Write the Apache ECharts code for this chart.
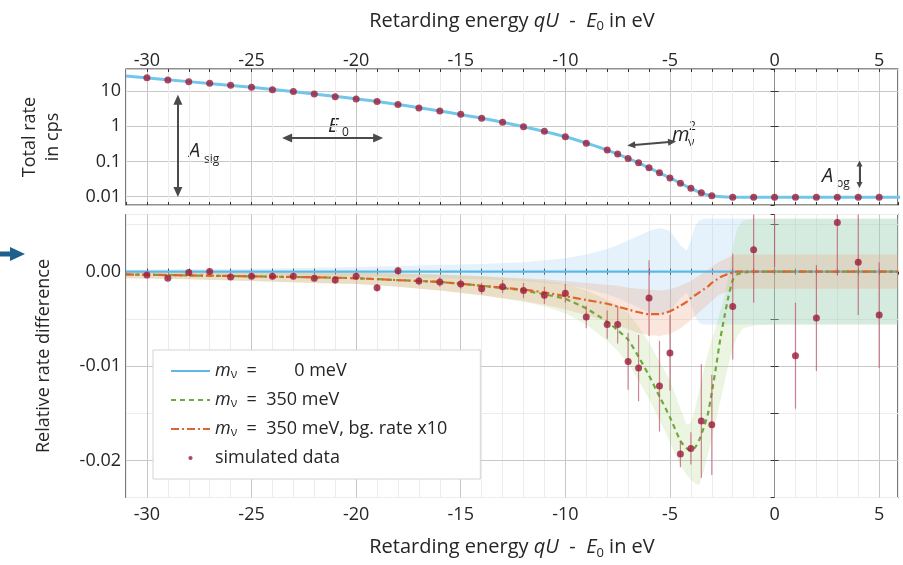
<!DOCTYPE html>
<html><head><meta charset="utf-8">
<script src="https://cdn.jsdelivr.net/npm/echarts@6/dist/echarts.min.js"></script>
<style>html,body{margin:0;padding:0;background:#fff}#c{width:903px;height:565px}</style>
</head><body><div id="c"></div><script>
// ---------- data ----------
const dataX = [-30,-29,-28,-27,-26,-25,-24,-23,-22,-21,-20,-19,-18,-17,-16,-15,-14,-13,-12,-11,-10,-9,-8,-7.5,-7,-6.5,-6,-5.5,-5,-4.5,-4,-3.5,-3,-2,-1,0,1,2,3,4,5];
const totalRate = [23.9,20.5,18.4,16.5,14.5,12.7,10.9,9.6,8.2,6.9,5.9,5.0,4.1,3.3,2.7,2.2,1.67,1.29,0.97,0.72,0.50,0.33,0.21,0.162,0.122,0.092,0.066,0.048,0.034,0.0239,0.0172,0.0129,0.0106,0.0097,0.0096,0.0096,0.0096,0.0096,0.0096,0.0096,0.0096];
const rateCurveX = [-31,-28,-25,-22,-19,-16,-13,-10,-8,-7,-6,-5,-4.5,-4,-3.5,-3,-2.5,-2,0,6];
const rateCurve = [26.7,18.4,12.7,8.2,5.0,2.7,1.29,0.50,0.21,0.122,0.066,0.034,0.024,0.0172,0.0128,0.0106,0.0099,0.0097,0.0096,0.0096];

const relDiff = [-0.00035,-0.0007,-0.0001,0.0,-0.00056,-0.0005,-0.0005,-0.0005,-0.0007,-0.0009,-0.0005,-0.0017,0.0001,-0.0010,-0.0011,-0.0013,-0.0018,-0.0016,-0.0020,-0.0025,-0.0023,-0.0048,-0.0056,-0.0056,-0.0095,-0.0102,-0.0028,-0.0121,-0.0086,-0.0193,-0.0187,-0.0158,-0.0162,-0.0037,0.0023,0.0061,-0.0089,-0.0049,0.0052,0.0010,-0.0046];
const relErr = [0.0002,0.0002,0.0002,0.0002,0.00025,0.00025,0.0003,0.0003,0.0003,0.00035,0.00035,0.0004,0.0004,0.00045,0.0005,0.0005,0.0006,0.0007,0.0008,0.0009,0.001,0.0012,0.0015,0.002,0.003,0.0035,0.004,0.0048,0.004,0.0014,0.0017,0.006,0.0053,0.0056,0.0056,0.0056,0.0056,0.0056,0.0056,0.0056,0.0056];

const curve0X = [-31, 5.9];
const curve0 = [0, 0];
const modelX = [-31,-28,-25,-22,-20,-18,-16,-14,-12,-11,-10,-9,-8,-7.5,-7,-6.5,-6,-5.5,-5,-4.5,-4.2,-4,-3.8,-3.6,-3.4,-3.2,-3,-2.8,-2.6,-2.4,-2.2,-2,-1.8,-1.5,-1,0,2,4,5.9];
const curve350 = [-0.0003,-0.0004,-0.0005,-0.0006,-0.0007,-0.0009,-0.0011,-0.0015,-0.0020,-0.0024,-0.0029,-0.0039,-0.0053,-0.0062,-0.0072,-0.0090,-0.0110,-0.0132,-0.0154,-0.0179,-0.0187,-0.0189,-0.0186,-0.0178,-0.0166,-0.0152,-0.0128,-0.0101,-0.0072,-0.0048,-0.0026,-0.0009,-0.0003,-0.0001,0,0,0,0,0];
const curve350bg = [-0.0003,-0.0004,-0.0005,-0.0006,-0.0007,-0.0009,-0.0011,-0.0015,-0.0019,-0.0022,-0.0026,-0.0030,-0.0034,-0.0037,-0.0040,-0.0043,-0.0045,-0.0045,-0.0042,-0.0036,-0.0032,-0.0028,-0.0025,-0.0022,-0.0019,-0.0016,-0.0012,-0.0009,-0.0006,-0.0004,-0.0002,-0.0001,0,0,0,0,0,0,0];
const band0Half = [0.0002,0.00025,0.0003,0.0004,0.0005,0.0006,0.0007,0.0008,0.0010,0.0012,0.0014,0.0018,0.0024,0.0028,0.0033,0.0038,0.0043,0.0046,0.0043,0.0028,0.0022,0.0033,0.0048,0.0054,0.0056,0.0056,0.0056,0.0056,0.0056,0.0056,0.0056,0.0056,0.0056,0.0056,0.0056,0.0056,0.0056,0.0056,0.0056];
const band350High = [0.0000,-0.0001,-0.0001,-0.0001,-0.0001,-0.0002,-0.0003,-0.0005,-0.0008,-0.0010,-0.0013,-0.0020,-0.0030,-0.0036,-0.0044,-0.0058,-0.0075,-0.0095,-0.0115,-0.0145,-0.0162,-0.0160,-0.0145,-0.0125,-0.0105,-0.0088,-0.0072,-0.0058,-0.0042,-0.0025,-0.0005,0.0025,0.0045,0.0054,0.0056,0.0056,0.0056,0.0056,0.0056];
const band350Low = [-0.0007,-0.0008,-0.0010,-0.0012,-0.0013,-0.0016,-0.0020,-0.0025,-0.0032,-0.0037,-0.0044,-0.0056,-0.0073,-0.0084,-0.0097,-0.0115,-0.0135,-0.0157,-0.0180,-0.0205,-0.0215,-0.0220,-0.0224,-0.0226,-0.0212,-0.0195,-0.0176,-0.0157,-0.0138,-0.0118,-0.0098,-0.0082,-0.0069,-0.0060,-0.0057,-0.0056,-0.0056,-0.0056,-0.0056];
const band350bgHigh = [0.0000,-0.0001,-0.0001,-0.0001,-0.0001,-0.0002,-0.0003,-0.0005,-0.0007,-0.0008,-0.0010,-0.0012,-0.0014,-0.0015,-0.0017,-0.0018,-0.0019,-0.0020,-0.0019,-0.0015,-0.0012,-0.0010,-0.0007,-0.0004,-0.0001,0.0002,0.0005,0.0008,0.0011,0.0013,0.0015,0.0017,0.0018,0.0018,0.0018,0.0018,0.0018,0.0018,0.0018];
const band350bgLow = [-0.0007,-0.0008,-0.0010,-0.0012,-0.0013,-0.0016,-0.0020,-0.0025,-0.0031,-0.0035,-0.0040,-0.0046,-0.0053,-0.0057,-0.0061,-0.0065,-0.0067,-0.0068,-0.0066,-0.0060,-0.0055,-0.0051,-0.0047,-0.0043,-0.0039,-0.0035,-0.0031,-0.0027,-0.0024,-0.0022,-0.0020,-0.0019,-0.0018,-0.0018,-0.0018,-0.0018,-0.0018,-0.0018,-0.0018];

const xMajor = [-30,-25,-20,-15,-10,-5,0,5];
const diffMajor = [-0.02,-0.01];
// annotation arrows (data coordinates of the top panel)
const arrowAsig = [[-28.52, 5.6], [-28.52, 0.0135]];
const arrowE0 = [[-23.3, 0.46], [-18.95, 0.46]];
const arrowM = [[-6.85, 0.29], [-4.9, 0.36]];
const arrowAbg = [[4.06, 0.088], [4.06, 0.0215]];

// ---------- helpers ----------
const FF = '"Open Sans", "DejaVu Sans", sans-serif';
const TXT = '#262626';
const zip = (a, b) => a.map((v, i) => [v, b[i]]);
const bandSeries = (id, low, high, color) => ({
  type:'custom', name:id, xAxisIndex:2, yAxisIndex:2, z:1, silent:true, clip:true,
  data: modelX.map((x, i) => [x, low[i], high[i]]),
  encode:{x:0, y:[1,2]},
  renderItem:(params, api) => {
    if (params.dataIndex !== 0) return null;
    const n = params.dataInsideLength;
    const pts = [];
    for (let i = 0; i < n; i++) pts.push(api.coord([api.value(0, i), api.value(2, i)]));
    for (let i = n - 1; i >= 0; i--) pts.push(api.coord([api.value(0, i), api.value(1, i)]));
    return {type:'polygon', shape:{points:pts}, style:{fill:color}};
  }
});
const xLabelFmt = v => (Number.isInteger(v) && v % 5 === 0) ? String(v) : '';
const logFmt = v => { const l = Math.log10(v); const p = Math.round(l); if (Math.abs(l-p) > 1e-6) return ''; return p >= 0 ? String(Math.pow(10,p)) : Math.pow(10,p).toFixed(-p); };
const diffFmt = v => { const r = Math.round(v/0.01); return Math.abs(v - r*0.01) < 1e-9 ? (r === 0 ? '0.00' : (r*0.01).toFixed(2)) : ''; };

const nameRich = {
  n:{fontSize:20, fontFamily:FF, color:TXT, lineHeight:24},
  i:{fontSize:20, fontFamily:FF, color:TXT, fontStyle:'italic', lineHeight:24},
  s:{fontSize:13, fontFamily:FF, color:TXT, verticalAlign:'bottom', lineHeight:13}
};
const xName = '{n|Retarding energy }{i|qU}{n|  -  }{i|E}{s|0}{n| in eV}';
const tickInside = {show:true, inside:true, length:3, lineStyle:{color:'#333'}};
const baseX = (gridIndex, position, labels, margin) => ({
  type:'value', gridIndex, position, min:-31, max:5.9, interval:1,
  axisLine:{show:false}, axisTick:tickInside,
  axisLabel:{show:labels, formatter:xLabelFmt, fontSize:18, fontFamily:FF, color:TXT, margin:margin, showMinLabel:false, showMaxLabel:false},
  splitLine:{show:labels, lineStyle:{color:'#ececec', width:1}}
});

const gridMarkV = xMajor.map(v => ({xAxis:v, lineStyle:{color: v===0 ? '#8f8f8f' : '#c6c6c6', width:1, type:'solid'}}));
const markBase = {silent:true, symbol:'none', z:0, label:{show:false}, animation:false};

const legendRich = {
  m:{fontSize:18, fontFamily:FF, color:TXT, fontStyle:'italic', lineHeight:20},
  s:{fontSize:12, fontFamily:FF, color:TXT, verticalAlign:'bottom', lineHeight:9},
  t:{fontSize:18, fontFamily:FF, color:TXT, lineHeight:20}
};

const chart = echarts.init(document.getElementById('c'));
chart.setOption({
  animation:false,
  backgroundColor:'#fff',
  grid:[
    {left:126, top:69, right:5, height:136, show:true, borderColor:'#222', borderWidth:1.2, backgroundColor:'transparent'},
    {left:126, top:214.5, right:5, height:283, show:true, borderColor:'#222', borderWidth:1.2, backgroundColor:'transparent'}
  ],
  xAxis:[
    Object.assign(baseX(0,'top',true,-1), {name:xName, nameLocation:'middle', nameGap:36, nameTextStyle:{rich:nameRich}}),
    baseX(0,'bottom',false,6),
    Object.assign(baseX(1,'bottom',true,8), {name:xName, nameLocation:'middle', nameGap:38, nameTextStyle:{rich:nameRich}}),
    baseX(1,'top',false,6)
  ],
  yAxis:[
    {type:'log', logBase:10, gridIndex:0, min:0.0058, max:42, position:'left',
     axisLine:{show:false}, axisTick:{show:true, inside:true, length:4, lineStyle:{color:'#333'}},
     axisLabel:{formatter:logFmt, fontSize:18, fontFamily:FF, color:TXT, margin:5, showMinLabel:false, showMaxLabel:false},
     splitLine:{show:true, lineStyle:{color:'#c8c8c8'}},
     name:'Total rate\nin cps', nameLocation:'middle', nameRotate:90, nameGap:62,
     nameTextStyle:{fontSize:18, fontFamily:FF, color:TXT, lineHeight:23}},
    {type:'log', logBase:10, gridIndex:0, min:0.0058, max:42, position:'right',
     axisLine:{show:false}, axisTick:{show:true, inside:true, length:4, lineStyle:{color:'#333'}},
     axisLabel:{show:false}, splitLine:{show:false}},
    {type:'value', gridIndex:1, min:-0.02389, max:0.00604, position:'left',
     axisLine:{show:false}, axisTick:{show:true, inside:true, length:4, lineStyle:{color:'#333'}},
     axisLabel:{formatter:diffFmt, fontSize:18, fontFamily:FF, color:TXT, margin:5, showMinLabel:false, showMaxLabel:false},
     splitLine:{show:true, lineStyle:{color:'#ececec'}},
     name:'Relative rate difference', nameLocation:'middle', nameRotate:90, nameGap:73,
     nameTextStyle:{fontSize:18, fontFamily:FF, color:TXT}},
    {type:'value', gridIndex:1, min:-0.02389, max:0.00604, position:'right',
     axisLine:{show:false}, axisTick:{show:true, inside:true, length:4, lineStyle:{color:'#333'}},
     axisLabel:{show:false}, splitLine:{show:false}}
  ],
  legend:{
    data:[{name:'m0', itemStyle:{opacity:0}},{name:'m350', itemStyle:{opacity:0}},{name:'m350bg', itemStyle:{opacity:0}},
          {name:'sim', icon:'path://M0,0L0.01,0M20,20L20.01,20M7,10A3,3,0,1,1,13,10A3,3,0,1,1,7,10Z'}],
    orient:'vertical', left:153, top:350, itemWidth:39, itemHeight:14, itemGap:10,
    padding:[12, 33, 12, 17], backgroundColor:'#fff', borderColor:'#d4d4d4', borderWidth:1, borderRadius:0,
    selectedMode:false,
    formatter: n => ({
      m0:'{m|m}{s|ν}{t|  =        0 meV}',
      m350:'{m|m}{s|ν}{t|  =  350 meV}',
      m350bg:'{m|m}{s|ν}{t|  =  350 meV, bg. rate x10}',
      sim:'{t|simulated data}'
    })[n],
    textStyle:{fontSize:18, fontFamily:FF, color:TXT, rich:legendRich}
  },
  graphic:[
    {type:'polygon', shape:{points:[[0,251.5],[10,251.5],[10,247],[25,254],[10,261],[10,256.5],[0,256.5]]}, style:{fill:'#1f5f8b'}},
    {type:'text', style:{text:'A', x:189, y:151, font:'italic 20px '+FF, fill:TXT, verticalAlign:'middle'}},
    {type:'text', style:{text:'sig', x:204, y:160, font:'12px '+FF, fill:TXT, verticalAlign:'middle'}},
    {type:'text', style:{text:'E', x:328, y:126, font:'italic 20px '+FF, fill:TXT, verticalAlign:'middle'}},
    {type:'text', style:{text:'0', x:342, y:133, font:'12px '+FF, fill:TXT, verticalAlign:'middle'}},
    {type:'text', style:{text:'m', x:672, y:135, font:'italic 20px '+FF, fill:TXT, verticalAlign:'middle'}},
    {type:'text', style:{text:'ν', x:688, y:143, font:'12px '+FF, fill:TXT, verticalAlign:'middle'}},
    {type:'text', style:{text:'2', x:689, y:127, font:'12px '+FF, fill:TXT, verticalAlign:'middle'}},
    {type:'text', style:{text:'A', x:822, y:176, font:'italic 20px '+FF, fill:TXT, verticalAlign:'middle'}},
    {type:'text', style:{text:'bg', x:836, y:184, font:'12px '+FF, fill:TXT, verticalAlign:'middle'}}
  ],
  series:[
    // top panel
    {type:'line', name:'rateModel', xAxisIndex:0, yAxisIndex:0, data:zip(rateCurveX, rateCurve), smooth:0.3,
     symbol:'none', lineStyle:{color:'#72c6ea', width:3}, z:2,
     markLine:Object.assign({}, markBase, {data:gridMarkV})},
    {type:'scatter', name:'rateData', xAxisIndex:0, yAxisIndex:0, data:zip(dataX, totalRate), symbolSize:7,
     itemStyle:{color:'#9b1c3a'}, z:5,
     markLine:{silent:true, z:6, animation:false, label:{show:false}, symbol:['triangle','triangle'], symbolSize:[9,10],
       lineStyle:{color:'#4a4a4a', width:2, type:'solid'},
       data:[
         [{coord:arrowAsig[0]},{coord:arrowAsig[1]}],
         [{coord:arrowE0[0]},{coord:arrowE0[1]}],
         [{coord:arrowM[0], symbolSize:[7,8]},{coord:arrowM[1], symbolSize:[7,8], lineStyle:{curveness:-0.2}}],
         [{coord:arrowAbg[0], symbolSize:[6,6]},{coord:arrowAbg[1], symbolSize:[6,6]}]
       ]}},
    // bottom panel bands
    bandSeries('b0', band0Half.map(v=>-v), band0Half, 'rgba(150,205,240,0.25)'),
    bandSeries('b1', band350Low, band350High, 'rgba(165,210,125,0.22)'),
    bandSeries('b2', band350bgLow, band350bgHigh, 'rgba(236,160,120,0.26)'),
    // bottom panel curves
    {type:'line', name:'m0', xAxisIndex:2, yAxisIndex:2, data:zip(curve0X, curve0), symbol:'none',
     lineStyle:{color:'#5cb8e6', width:2.2}, itemStyle:{color:'#5cb8e6'}, z:3,
     markLine:Object.assign({}, markBase, {data:gridMarkV.concat(diffMajor.map(v=>({yAxis:v, lineStyle:{color:'#c8c8c8', width:1, type:'solid'}})))})},
    {type:'line', name:'m350', xAxisIndex:2, yAxisIndex:2, data:zip(modelX, curve350), symbol:'none', smooth:0.2,
     lineStyle:{color:'#6fa83c', width:2.2, type:[5,4]}, itemStyle:{color:'#6fa83c'}, z:3},
    {type:'line', name:'m350bg', xAxisIndex:2, yAxisIndex:2, data:zip(modelX, curve350bg), symbol:'none', smooth:0.2,
     lineStyle:{color:'#e2622c', width:2.2, type:[8,3,2,3]}, itemStyle:{color:'#e2622c'}, z:3},
    {type:'custom', name:'err', xAxisIndex:2, yAxisIndex:2, clip:true, z:4,
     data:dataX.map((x,i)=>[x, relDiff[i]-relErr[i], relDiff[i]+relErr[i]]),
     encode:{x:0, y:[1,2]},
     renderItem:(params, api) => {
       const p1 = api.coord([api.value(0), api.value(1)]);
       const p2 = api.coord([api.value(0), api.value(2)]);
       return {type:'line', shape:{x1:p1[0], y1:p1[1], x2:p2[0], y2:p2[1]}, style:{stroke:'rgba(190,80,100,0.7)', lineWidth:1.2}};
     }},
    {type:'scatter', name:'sim', xAxisIndex:2, yAxisIndex:2, data:zip(dataX, relDiff), symbolSize:7, clip:true,
     itemStyle:{color:'#9b1c3a'}, z:5}
  ]
});
</script></body></html>
